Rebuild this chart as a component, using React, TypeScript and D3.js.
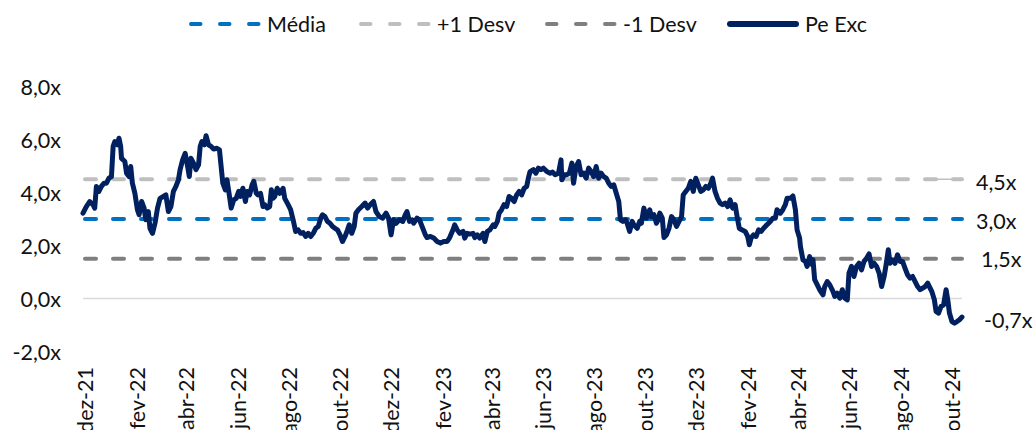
import React from "react";
import * as d3 from "d3";

// P/E premium series: [days since first observation, multiple]
const firstObservation = new Date(2021, 10, 26);

const peExcDays: number[] = [
  0, 4, 8, 12, 14, 16, 19, 22, 25, 28, 31, 34, 36, 38, 41, 43, 45, 46, 50, 52, 55, 57, 59, 62, 65, 67, 70, 73, 75, 78,
  80, 83, 86, 89, 92, 96, 99, 102, 105, 108, 111, 114, 116, 119, 122, 125, 127, 129, 132, 135, 138, 140, 142, 145, 147,
  150, 153, 156, 160, 163, 165, 167, 170, 172, 175, 177, 180, 183, 186, 188, 191, 194, 196, 199, 202, 204, 207, 209,
  212, 215, 217, 220, 223, 225, 227, 229, 232, 235, 239, 241, 245, 248, 251, 254, 257, 260, 263, 266, 269, 272, 275,
  278, 281, 284, 286, 289, 292, 295, 298, 301, 304, 307, 310, 313, 316, 318, 321, 324, 326, 329, 333, 337, 340, 343,
  347, 350, 354, 358, 362, 365, 368, 371, 374, 378, 382, 385, 387, 390, 393, 395, 399, 402, 405, 409, 411, 415, 419,
  423, 427, 431, 435, 438, 442, 444, 447, 450, 454, 456, 459, 462, 466, 468, 471, 474, 478, 480, 483, 486, 490, 492,
  495, 497, 500, 503, 506, 509, 512, 515, 518, 521, 524, 527, 530, 532, 534, 538, 541, 544, 547, 550, 554, 558, 561,
  564, 568, 571, 572, 575, 578, 581, 584, 586, 589, 592, 595, 598, 601, 604, 607, 610, 613, 616, 619, 622, 625, 628,
  631, 634, 637, 640, 642, 645, 648, 650, 653, 656, 658, 662, 665, 667, 670, 673, 677, 679, 682, 685, 687, 689, 692,
  694, 697, 700, 703, 706, 709, 712, 715, 717, 720, 723, 726, 729, 732, 735, 738, 741, 744, 747, 750, 752, 755, 758,
  761, 764, 767, 770, 773, 776, 779, 782, 784, 787, 791, 794, 796, 798, 801, 804, 807, 810, 813, 817, 821, 824, 827,
  829, 833, 836, 839, 841, 845, 848, 851, 853, 856, 857, 860, 863, 865, 868, 871, 872, 874, 877, 880, 884, 886, 889,
  892, 896, 898, 901, 904, 907, 910, 913, 915, 918, 921, 924, 927, 930, 933, 936, 939, 942, 945, 948, 951, 954, 957,
  959, 962, 964, 967, 970, 973, 976, 979, 982, 985, 988, 991, 994, 997, 1000, 1003, 1006, 1009, 1011, 1014, 1017,
  1019, 1022, 1025, 1028, 1031, 1033, 1035, 1038, 1041, 1044, 1047, 1050,
];

const peExcValues: number[] = [
  3.22, 3.47, 3.66, 3.54, 3.41, 4.23, 4.04, 4.23, 4.35, 4.35, 4.54, 4.6, 5.74, 5.92, 5.8, 6.05, 5.74, 5.29, 5.17, 4.73,
  4.6, 4.98, 4.35, 3.97, 3.35, 3.16, 3.66, 3.41, 2.97, 3.28, 2.65, 2.46, 2.84, 3.41, 3.78, 3.85, 3.91, 3.28, 3.47, 4.04,
  4.23, 4.48, 4.86, 5.23, 5.48, 4.98, 4.6, 5.29, 5.11, 4.86, 5.04, 5.74, 5.92, 5.8, 6.14, 5.8, 5.74, 5.64, 5.67, 5.61,
  4.98, 4.35, 4.1, 4.48, 3.85, 3.41, 3.72, 3.78, 4.04, 3.85, 4.16, 3.66, 4.04, 3.91, 4.29, 4.42, 3.97, 3.91, 3.97, 3.47,
  3.54, 3.41, 3.47, 4.1, 3.78, 3.85, 4.16, 3.97, 4.16, 3.78, 3.54, 3.35, 2.97, 2.53, 2.59, 2.46, 2.49, 2.34, 2.46, 2.34,
  2.46, 2.65, 2.72, 3.03, 3.16, 3.09, 2.91, 2.84, 2.72, 2.65, 2.59, 2.4, 2.15, 2.34, 2.59, 2.78, 2.46, 2.72, 3.22, 3.35,
  3.47, 3.6, 3.41, 3.54, 3.66, 3.28, 3.09, 3.03, 3.22, 3.03, 2.4, 2.97, 2.84, 2.97, 2.91, 3.16, 3.28, 2.91, 2.97, 2.84,
  3.03, 2.97, 2.72, 2.4, 2.3, 2.34, 2.28, 2.15, 2.09, 2.15, 2.15, 2.3, 2.59, 2.78, 2.59, 2.46, 2.53, 2.28, 2.46, 2.43,
  2.46, 2.3, 2.4, 2.28, 2.46, 2.15, 2.53, 2.59, 2.78, 2.72, 2.91, 3.22, 3.35, 3.54, 3.47, 3.85, 3.78, 3.66, 3.91, 4.04,
  3.91, 4.16, 4.23, 4.54, 4.79, 4.86, 4.73, 4.92, 4.86, 4.92, 4.79, 4.73, 4.77, 4.67, 4.73, 5.23, 4.48, 4.67, 4.67,
  4.73, 5.11, 4.35, 4.98, 5.17, 4.67, 4.73, 4.54, 4.92, 4.79, 4.6, 4.98, 4.54, 4.73, 4.6, 4.54, 4.35, 4.23, 4.29, 3.97,
  3.66, 2.97, 2.91, 2.97, 2.84, 2.53, 2.91, 2.78, 2.65, 2.91, 2.84, 3.41, 3.03, 3.35, 3.09, 3.16, 2.84, 2.97, 3.22,
  3.03, 2.3, 2.4, 2.65, 3.09, 2.97, 2.72, 2.91, 3.09, 3.91, 4.04, 4.16, 4.42, 4.04, 4.54, 4.29, 4.04, 4.1, 4.23, 4.16,
  4.35, 4.54, 4.04, 3.78, 3.6, 3.54, 3.6, 3.47, 3.72, 3.41, 3.54, 2.97, 2.65, 2.59, 2.53, 2.34, 2.03, 2.28, 2.4, 2.34,
  2.59, 2.53, 2.65, 2.78, 2.91, 3.03, 3.03, 3.35, 3.22, 3.35, 3.54, 3.78, 3.78, 3.87, 3.35, 2.59, 2.28, 1.96, 1.46, 1.4,
  1.21, 1.58, 1.27, 1.46, 0.71, 0.52, 0.33, 0.14, 0.45, 0.64, 0.52, 0.26, 0.08, 0.2, 0.01, 0.33, 0.01, -0.05, 0.96,
  1.21, 0.83, 1.21, 1.33, 1.08, 1.4, 1.52, 1.68, 1.21, 1.33, 1.21, 0.96, 0.45, 0.83, 1.21, 1.84, 1.33, 1.46, 1.33,
  1.65, 1.4, 1.4, 1.14, 0.89, 0.77, 0.83, 0.64, 0.45, 0.33, 0.39, 0.45, 0.58, 0.45, 0.26, -0.05, -0.49, -0.55, -0.3,
  -0.24, 0.33, -0.05, -0.55, -0.87, -0.93, -0.87, -0.8, -0.7,
];

// Reference levels
const meanLevel = 3.0;
const plusOneStd = 4.5;
const minusOneStd = 1.5;

const yTicks = [-2, 0, 2, 4, 6, 8];
const monthNames = ["jan", "fev", "mar", "abr", "mai", "jun", "jul", "ago", "set", "out", "nov", "dez"];
const legendNames = ["Média", "+1 Desv", "-1 Desv", "Pe Exc"];

const COLORS = {
  mean: "#0070C0",
  plus: "#BFBFBF",
  minus: "#7F7F7F",
  pe: "#002060",
  grid: "#D9D9D9",
  text: "#111111",
};

const FONT = "Lato, 'Open Sans', sans-serif";
const FONT_SIZE = 21.5;

const fmt = (v: number) => `${v.toFixed(1).replace(".", ",")}x`;

export default function App() {
  const width = 1034;
  const height = 430;

  const dates = peExcDays.map((d) => d3.timeDay.offset(firstObservation, d));
  const series = dates.map((date, i) => ({ date, value: peExcValues[i] }));
  const lastDate = dates[dates.length - 1];
  const lastValue = peExcValues[peExcValues.length - 1];

  const x = d3.scaleTime().domain([firstObservation, lastDate]).range([83, 962]);
  const y = d3.scaleLinear().domain([-2, 8]).range([351.5, 86.5]);

  const tickDates = d3.timeMonth.range(new Date(2021, 11, 1), new Date(2024, 10, 1), 2);
  const tickLabel = (d: Date) => `${monthNames[d.getMonth()]}-${String(d.getFullYear()).slice(2)}`;

  const line = d3
    .line<{ date: Date; value: number }>()
    .x((d) => x(d.date))
    .y((d) => y(d.value));

  const x0 = x(firstObservation);
  const x1 = x(lastDate);

  const refLines = [
    { value: plusOneStd, color: COLORS.plus },
    { value: meanLevel, color: COLORS.mean },
    { value: minusOneStd, color: COLORS.minus },
  ];

  const endLabels = [
    { value: plusOneStd, dx: 14, dy: 2.5 },
    { value: meanLevel, dx: 14, dy: 2 },
    { value: minusOneStd, dx: 19, dy: 0.5 },
    { value: lastValue, dx: 22, dy: 3 },
  ];

  const legendX = [189, 359, 545, 727];
  const legendY = 24;
  const legendColors = [COLORS.mean, COLORS.plus, COLORS.minus, COLORS.pe];

  return (
    <div style={{ position: "absolute", left: 0, top: 0 }}>
      <svg width={width} height={height} style={{ display: "block", background: "#fff" }} fontFamily={FONT}>
        {/* zero gridline */}
        <line x1={x0} x2={x1} y1={y(0)} y2={y(0)} stroke={COLORS.grid} strokeWidth={1.5} />

        {/* reference levels */}
        <line
          x1={x1 - 28}
          x2={x1}
          y1={y(plusOneStd)}
          y2={y(plusOneStd)}
          stroke={COLORS.plus}
          strokeWidth={1.5}
        />
        {refLines.map((r) => (
          <line
            key={r.value}
            x1={x0 + 2}
            x2={x1}
            y1={y(r.value)}
            y2={y(r.value)}
            stroke={r.color}
            strokeWidth={4}
            strokeDasharray="11 17"
            strokeLinecap="round"
          />
        ))}

        {/* P/E series */}
        <path
          d={line(series) ?? ""}
          fill="none"
          stroke={COLORS.pe}
          strokeWidth={5}
          strokeLinejoin="round"
          strokeLinecap="round"
        />

        {/* y axis labels */}
        {yTicks.map((t) => (
          <text
            key={t}
            x={61}
            y={y(t)}
            textAnchor="end"
            dominantBaseline="central"
            fontSize={FONT_SIZE}
            fill={COLORS.text}
          >
            {fmt(t)}
          </text>
        ))}

        {/* x axis labels */}
        {tickDates.map((d) => (
          <text
            key={d.getTime()}
            transform={`translate(${x(d)},367) rotate(-90)`}
            y={6}
            textAnchor="end"
            fontSize={FONT_SIZE}
            fill={COLORS.text}
          >
            {tickLabel(d)}
          </text>
        ))}

        {/* end-of-series value labels */}
        {endLabels.map((l, i) => (
          <text
            key={i}
            x={x1 + l.dx}
            y={y(l.value) + l.dy}
            dominantBaseline="central"
            fontSize={FONT_SIZE}
            fill={COLORS.text}
          >
            {fmt(l.value)}
          </text>
        ))}

        {/* legend */}
        {legendNames.map((name, i) => (
          <g key={name} transform={`translate(${legendX[i]},${legendY})`}>
            {i < 3 ? (
              <line
                x1={2}
                x2={70}
                y1={0}
                y2={0}
                stroke={legendColors[i]}
                strokeWidth={4}
                strokeDasharray="9.5 19.5"
                strokeLinecap="round"
              />
            ) : (
              <line x1={3} x2={69} y1={0} y2={0} stroke={legendColors[i]} strokeWidth={6} strokeLinecap="round" />
            )}
            <text x={78} y={0} dominantBaseline="central" fontSize={FONT_SIZE} fill={COLORS.text}>
              {name}
            </text>
          </g>
        ))}
      </svg>
    </div>
  );
}
